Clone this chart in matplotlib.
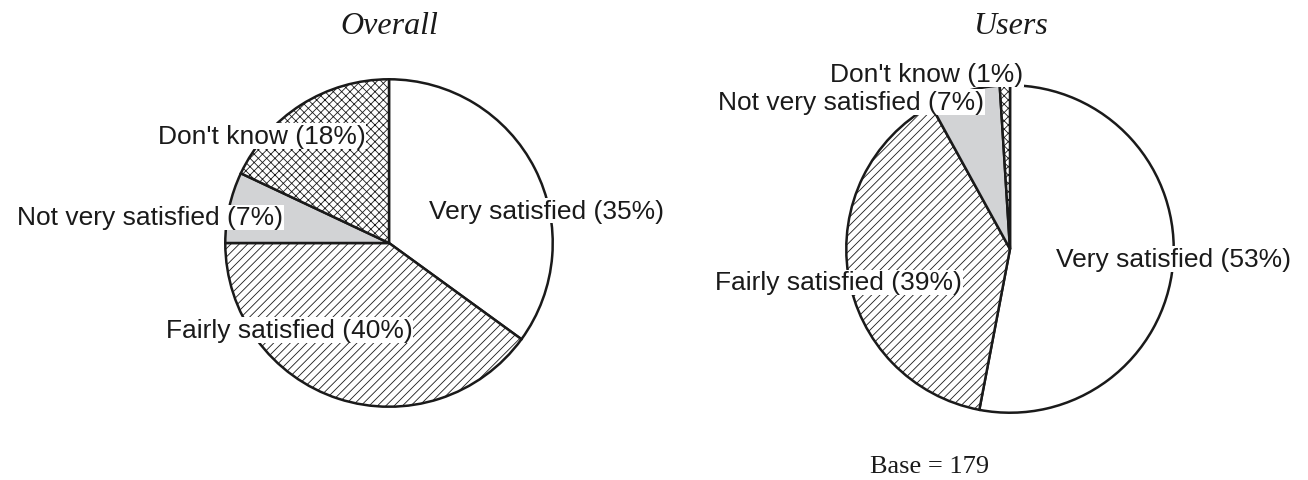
import matplotlib.pyplot as plt

# Satisfaction shares (%)
categories = ['Very satisfied', 'Fairly satisfied', 'Not very satisfied', "Don't know"]
overall_values = [35, 40, 7, 18]
users_values = [53, 39, 7, 1]
base_users = 179

fills = ['white', 'white', '#d2d3d5', 'white']
hatches = [None, '////', None, 'xxxx']

W, H = 1308, 481
fig = plt.figure(figsize=(W / 100, H / 100), dpi=100)
plt.rcParams['hatch.linewidth'] = 0.6


def pie_axes(cx, cy, r):
    # axes exactly covering the pie circle (pixel coords, y from top)
    return fig.add_axes([(cx - r) / W, (H - cy - r) / H, 2 * r / W, 2 * r / H])


def draw_pie(ax, values, label_pos, title, title_y):
    wedges, _ = ax.pie(values, startangle=90, counterclock=False, radius=1,
                       colors=fills,
                       wedgeprops=dict(edgecolor='#1a1a1a', linewidth=1.8))
    for w, h in zip(wedges, hatches):
        if h:
            w.set_hatch(h)
    ax.set_xlim(-1.02, 1.02)
    ax.set_ylim(-1.02, 1.02)
    ax.set_aspect('auto')
    ax.axis('off')
    for cat, v, (x, y) in zip(categories, values, label_pos):
        ax.text(x, y, f'{cat} ({v}%)', ha='center', va='center',
                fontsize=19, family='Liberation Sans', color='#1a1a1a',
                bbox=dict(facecolor='white', edgecolor='none', pad=0.5),
                clip_on=False, zorder=5)
    ax.text(0, title_y, title, ha='center', va='center', fontsize=23,
            family='Liberation Serif', style='italic', color='#1a1a1a',
            clip_on=False)


ax1 = pie_axes(389, 244, 167)
draw_pie(ax1, overall_values,
         [(0.964, 0.198), (-0.611, -0.533), (-1.461, 0.156), (-0.778, 0.653)],
         'Overall', 1.33)

ax2 = pie_axes(1010, 250, 167)
draw_pie(ax2, users_values,
         [(1.0, -0.06), (-1.048, -0.204), (-0.97, 0.898), (-0.509, 1.066)],
         'Users', 1.365)
ax2.text(-0.49, -1.365, f'Base = {base_users}', ha='center', va='baseline',
         fontsize=19, family='Liberation Serif', color='#1a1a1a', clip_on=False)

fig.savefig('out.png', dpi=100)
